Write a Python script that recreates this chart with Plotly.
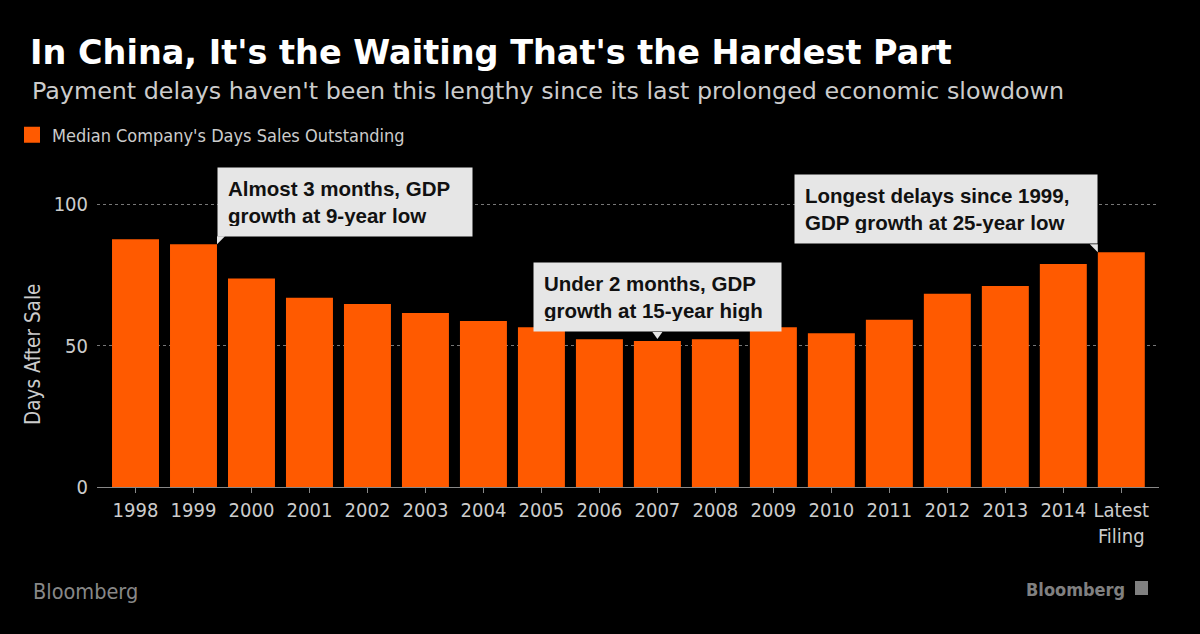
import plotly.graph_objects as go

categories = ["1998", "1999", "2000", "2001", "2002", "2003", "2004", "2005", "2006",
              "2007", "2008", "2009", "2010", "2011", "2012", "2013", "2014", "Latest<br>Filing"]
dso_days = [87.6, 85.8, 73.7, 66.9, 64.7, 61.5, 58.7, 56.5, 52.2,
            51.6, 52.2, 56.5, 54.4, 59.1, 68.3, 71.1, 78.8, 83.0]
y_ticks = [0, 50, 100]
series_name = "Median Company's Days Sales Outstanding"

notes = [
    {"idx": 1, "text": "Almost 3 months, GDP<br>growth at 9-year low", "side": "right"},
    {"idx": 9, "text": "Under 2 months, GDP<br>growth at 15-year high", "side": "center"},
    {"idx": 17, "text": "Longest delays since 1999,<br>GDP growth at 25-year low", "side": "left"},
]
note_widths = [234, 227, 282]

ORANGE = "#ff5a00"
BOXC = "#e6e6e6"
BG = "#000000"
idx = list(range(len(categories)))
bargap = 0.19
half = (1 - bargap) / 2

L, R, T, B = 97, 41, 190, 147
PW = 1200 - L - R
PH = 634 - T - B


def px(p):
    return (p - L) / PW


def py(p):
    return (634 - B - p) / PH


fig = go.Figure()
fig.add_trace(go.Bar(x=idx, y=dso_days, marker=dict(color=ORANGE, line=dict(width=0)),
                     showlegend=False, hoverinfo="skip"))
fig.add_trace(go.Scatter(x=[None], y=[None], mode="markers", name=series_name,
                         marker=dict(symbol="square", size=16, color=ORANGE)))

annotations = []
shapes = []
for n, w in zip(notes, note_widths):
    i = n["idx"]
    v = dso_days[i]
    if n["side"] == "right":
        ax, xanchor, ys = i + half, "left", 7
        path = "M0,0 L0,8 L8,8 Z"
    elif n["side"] == "left":
        ax, xanchor, ys = i - half, "right", 8
        path = "M0,0 L0,8 L-8,8 Z"
    else:
        ax, xanchor, ys = i, "center", 9
        path = "M-5,9 L5,9 L0,2 Z"
    annotations.append(dict(x=ax, y=v, xref="x", yref="y", xanchor=xanchor, yanchor="bottom",
                            yshift=ys, showarrow=False, text=n["text"], align="left",
                            bgcolor=BOXC, borderpad=10, width=w, height=48,
                            font=dict(family="Liberation Sans", size=20.5, color="#111111", weight="bold")))
    shapes.append(dict(type="path", xref="x", yref="y", xsizemode="pixel", ysizemode="pixel",
                       xanchor=ax, yanchor=v, path=path, fillcolor=BOXC, line=dict(width=0)))

annotations += [
    dict(text="In China, It's the Waiting That's the Hardest Part", xref="paper", yref="paper",
         x=px(28), y=py(64), xanchor="left", yanchor="bottom", yshift=-10,
         showarrow=False, font=dict(family="DejaVu Sans", size=33.5, color="#ffffff", weight="bold")),
    dict(text="Payment delays haven't been this lengthy since its last prolonged economic slowdown",
         xref="paper", yref="paper", x=px(30), y=py(100), xanchor="left",
         yanchor="bottom", yshift=-7, showarrow=False,
         font=dict(family="DejaVu Sans", size=23.8, color="#cccccc")),
    dict(text="Days After Sale", xref="paper", yref="paper", x=px(33), y=py(355),
         xanchor="center", yanchor="middle", textangle=-90, showarrow=False,
         font=dict(family="DejaVu Sans Condensed", size=20.5, color="#cccccc")),
    dict(text="Bloomberg", xref="paper", yref="paper", x=px(31), y=py(591),
         xanchor="left", yanchor="middle", showarrow=False,
         font=dict(family="DejaVu Sans Condensed", size=21.5, color="#888888")),
    dict(text="Bloomberg", xref="paper", yref="paper", x=px(1127), y=py(589),
         xanchor="right", yanchor="middle", showarrow=False,
         font=dict(family="DejaVu Sans Condensed", size=18, color="#808080", weight="bold")),
]
shapes.append(dict(type="rect", xref="paper", yref="paper",
                   x0=px(1135), x1=px(1148), y0=py(595), y1=py(581),
                   fillcolor="#808080", line=dict(width=0)))

fig.update_layout(
    width=1200, height=634,
    paper_bgcolor=BG, plot_bgcolor=BG,
    margin=dict(l=L, r=R, t=T, b=B, pad=0, autoexpand=False),
    bargap=bargap,
    showlegend=True,
    legend=dict(x=px(12), y=py(135), xanchor="left", yanchor="middle",
                orientation="h", bgcolor="rgba(0,0,0,0)",
                font=dict(family="DejaVu Sans Condensed", size=18, color="#cccccc"),
                itemwidth=30),
    xaxis=dict(tickmode="array", tickvals=idx, ticktext=categories, range=[-0.664, 17.65],
               showgrid=False, zeroline=False, showline=True, linecolor="#888888", linewidth=1,
               ticks="outside", ticklen=5, tickcolor="#888888", automargin=False,
               tickfont=dict(family="DejaVu Sans Condensed", size=20, color="#cccccc"),
               fixedrange=True),
    yaxis=dict(range=[0, 105], tickvals=y_ticks, showgrid=True, gridcolor="#777777",
               griddash="dot", gridwidth=1, zeroline=False, showline=False,
               ticks="", ticklabelstandoff=8, automargin=False,
               tickfont=dict(family="DejaVu Sans Condensed", size=20, color="#cccccc"),
               fixedrange=True),
    annotations=annotations,
    shapes=shapes,
    hovermode=False,
)

fig.write_html("out.html")
